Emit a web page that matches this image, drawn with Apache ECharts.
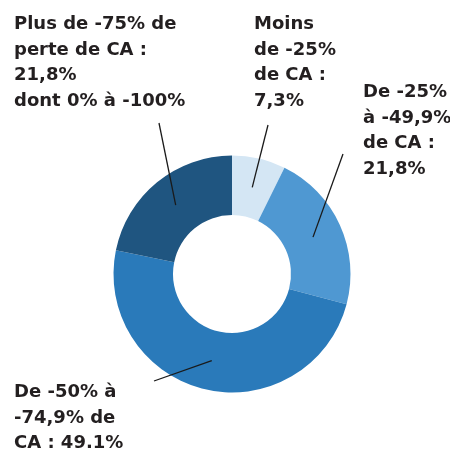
<!DOCTYPE html>
<html><head><meta charset="utf-8">
<script src="https://cdn.jsdelivr.net/npm/echarts@6/dist/echarts.min.js"></script>
<style>html,body{margin:0;padding:0;background:#fff}#c{width:450px;height:450px}</style>
</head><body><div id="c"></div>
<script>
// Data (clockwise from 12 o'clock)
const categories = ['Moins de -25% de CA', 'De -25% à -49,9% de CA', 'De -50% à -74,9% de CA', 'Plus de -75% de perte de CA'];
const values = [7.3, 21.8, 49.1, 21.8];
const labelTexts = [
  'Moins\nde -25%\nde CA :\n7,3%',
  'De -25%\nà -49,9%\nde CA :\n21,8%',
  'De -50% à\n-74,9% de\nCA : 49.1%',
  'Plus de -75% de\nperte de CA :\n21,8%\ndont 0% à -100%'
];

// Styling / layout
const colors = ['#d4e6f4', '#4f98d2', '#2a7aba', '#1f5580'];
const center = [232, 274];
const layoutCfg = {
  labelPos: [[254, 12], [363, 80], [14, 380], [14, 12]],
  lineEnds: [[268, 125], [343, 154], [154, 381], [159, 123]]
};

const data = categories.map((c, i) => ({ name: c, value: values[i], itemStyle: { color: colors[i] } }));

const chart = echarts.init(document.getElementById('c'), null, { renderer: 'canvas' });
chart.setOption({
  animation: false,
  backgroundColor: '#ffffff',
  series: [
    {
      type: 'pie',
      z: 1,
      center: center,
      radius: [59, 118.5],
      startAngle: 90,
      clockwise: true,
      silent: true,
      label: { show: false },
      labelLine: { show: false },
      emphasis: { disabled: true },
      data: data
    },
    {
      type: 'pie',
      z: 5,
      center: center,
      radius: [0, 89],
      startAngle: 90,
      clockwise: true,
      silent: true,
      avoidLabelOverlap: false,
      emphasis: { disabled: true },
      itemStyle: { color: 'rgba(0,0,0,0)' },
      label: {
        show: true,
        position: 'outside',
        formatter: p => labelTexts[p.dataIndex],
        color: '#231f20',
        fontFamily: 'DejaVu Sans',
        fontWeight: 'bold',
        fontSize: 18,
        lineHeight: 25.5,
        align: 'left'
      },
      labelLine: { show: true, length: 10, length2: 0, lineStyle: { color: '#1a1a1a', width: 1.3 } },
      labelLayout: function (params) {
        const i = params.dataIndex;
        const p0 = params.labelLinePoints ? params.labelLinePoints[0] : null;
        const res = {
          x: layoutCfg.labelPos[i][0],
          y: layoutCfg.labelPos[i][1],
          align: 'left',
          verticalAlign: 'top'
        };
        if (p0) res.labelLinePoints = [p0, layoutCfg.lineEnds[i]];
        return res;
      },
      data: categories.map((c, i) => ({ name: c, value: values[i] }))
    }
  ]
});
</script>
</body></html>
